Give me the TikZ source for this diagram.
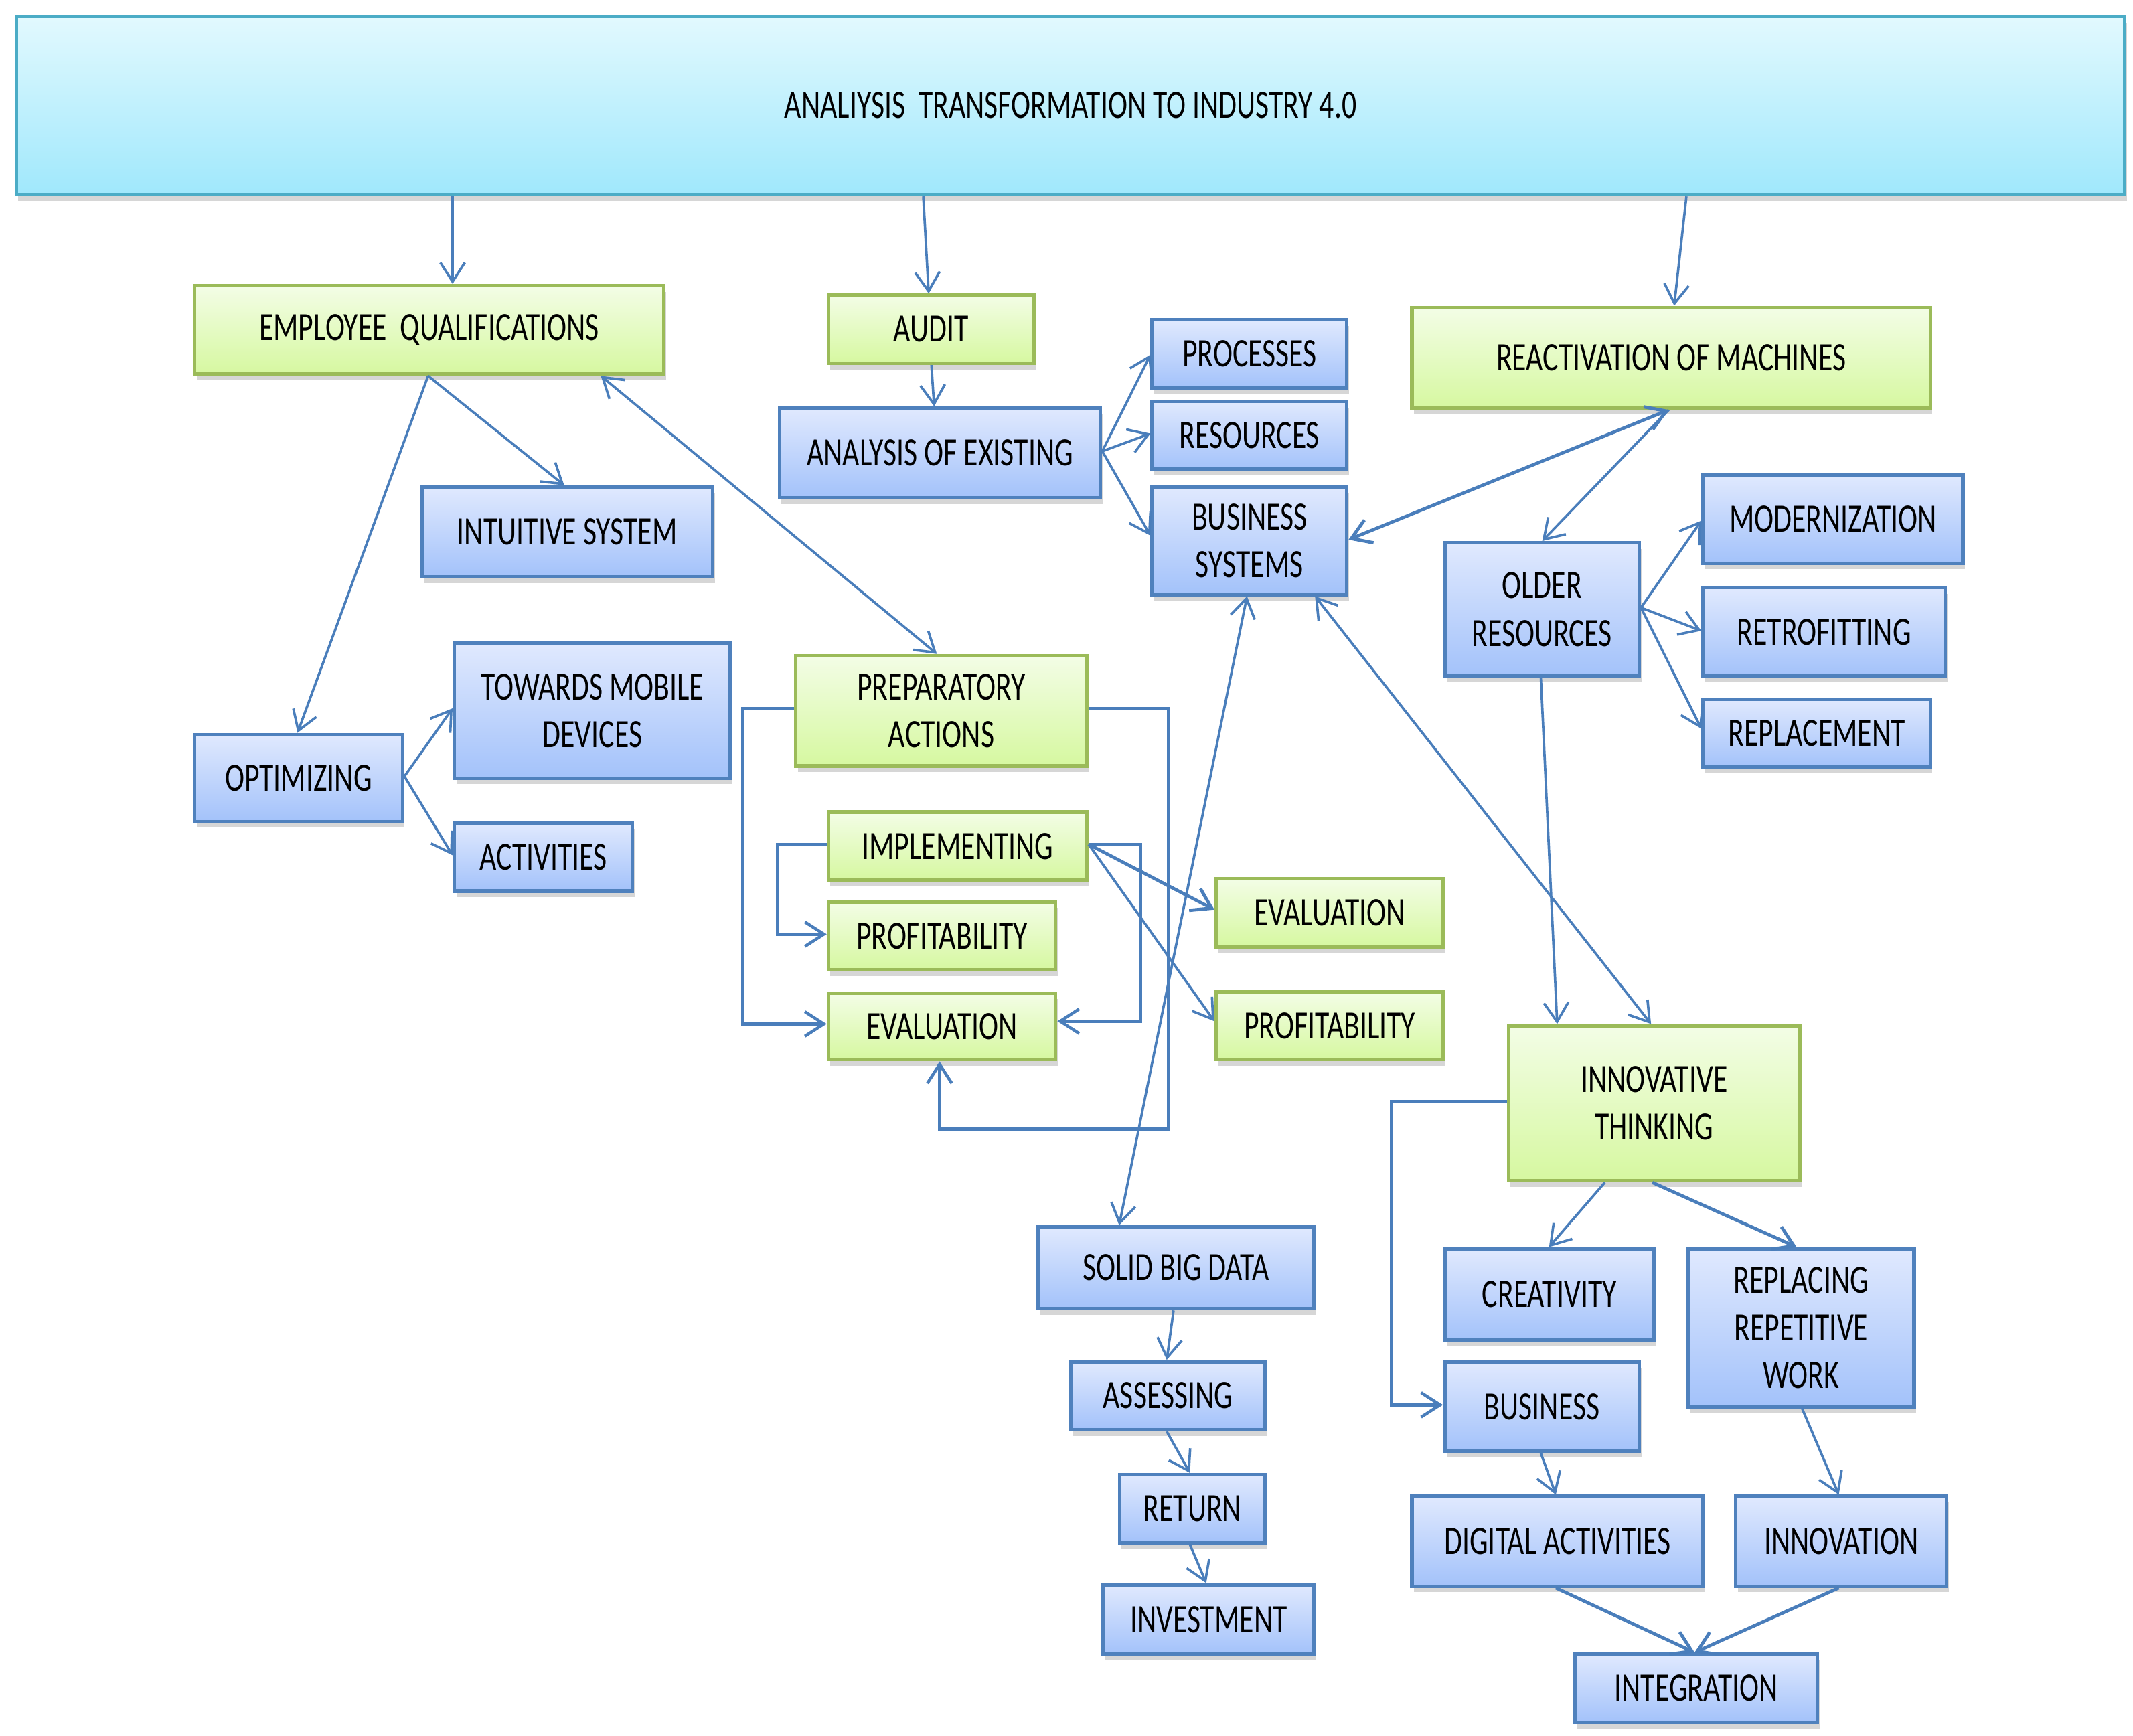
\documentclass[tikz,border=0pt]{standalone}
\usepackage{fontspec}
\usetikzlibrary{arrows.meta,shadows,calc}
\newfontfamily\cf[FakeStretch=0.73]{Carlito}
\definecolor{ttop}{HTML}{E2F9FE}
\definecolor{tbot}{HTML}{A0E8FC}
\definecolor{tborder}{HTML}{4BACC6}
\definecolor{gtop}{HTML}{F3FDE6}
\definecolor{gbot}{HTML}{D6F8A0}
\definecolor{gborder}{HTML}{9BBB59}
\definecolor{btop}{HTML}{E0E9FE}
\definecolor{bbot}{HTML}{A3C2FA}
\definecolor{bborder}{HTML}{4F81BD}
\definecolor{lc}{HTML}{4A7EBB}
\tikzset{
  vtip/.tip={Straight Barb[length=14pt,width=18pt]},
  basebox/.style={rectangle, line width=2.6pt, inner sep=0pt, align=center,
    font={\cf\fontsize{29.5}{35}\selectfont}, text=black,
    drop shadow={shadow xshift=1.5pt,shadow yshift=-4.5pt,opacity=0.32}},
  tbox/.style={basebox, draw=tborder, top color=ttop, bottom color=tbot},
  gbox/.style={basebox, draw=gborder, top color=gtop, bottom color=gbot},
  bbox/.style={basebox, draw=bborder, top color=btop, bottom color=bbot},
  conn/.style={draw=lc, line width=1.8pt},
  arr/.style={conn, -vtip},
  darr/.style={conn, vtip-vtip},
}
\newcommand\mkbox[7]{%
  \pgfmathsetmacro\mkw{#5-#3}%
  \pgfmathsetmacro\mkh{#6-#4}%
  \node[#2, minimum width=\mkw pt, minimum height=\mkh pt] (#1) at ({(#3+#5)/2},{(#4+#6)/2}) {#7};%
}
\begin{document}
\begin{tikzpicture}[x=1pt,y=-1pt]
\useasboundingbox (0,0) rectangle (1568,1276);
% boxes
\mkbox{top}{tbox}{12}{12}{1562}{143}{ANALIYSIS\ \ TRANSFORMATION TO INDUSTRY 4.0}
\mkbox{eq}{gbox}{143}{210}{488}{275}{EMPLOYEE\ \ QUALIFICATIONS}
\mkbox{audit}{gbox}{609}{217}{760}{267}{AUDIT}
\mkbox{react}{gbox}{1038}{226}{1419}{300}{REACTIVATION OF MACHINES}
\mkbox{anex}{bbox}{573}{300}{809}{366}{ANALYSIS OF EXISTING}
\mkbox{proc}{bbox}{847}{235}{990}{285}{PROCESSES}
\mkbox{res}{bbox}{847}{295}{990}{345}{RESOURCES}
\mkbox{bs}{bbox}{847}{358}{990}{437}{BUSINESS\\SYSTEMS}
\mkbox{intu}{bbox}{310}{358}{524}{424}{INTUITIVE SYSTEM}
\mkbox{tmd}{bbox}{334}{473}{537}{572}{TOWARDS MOBILE\\DEVICES}
\mkbox{opt}{bbox}{143}{540}{296}{604}{OPTIMIZING}
\mkbox{act}{bbox}{334}{605}{465}{655}{ACTIVITIES}
\mkbox{prep}{gbox}{585}{482}{799}{563}{PREPARATORY\\ACTIONS}
\mkbox{impl}{gbox}{609}{597}{799}{647}{IMPLEMENTING}
\mkbox{profa}{gbox}{609}{663}{776}{713}{PROFITABILITY}
\mkbox{evala}{gbox}{609}{730}{776}{779}{EVALUATION}
\mkbox{evalb}{gbox}{894}{646}{1061}{696}{EVALUATION}
\mkbox{profb}{gbox}{894}{729}{1061}{779}{PROFITABILITY}
\mkbox{older}{bbox}{1062}{399}{1205}{497}{OLDER\\RESOURCES}
\mkbox{mod}{bbox}{1252}{349}{1443}{414}{MODERNIZATION}
\mkbox{retro}{bbox}{1252}{432}{1430}{497}{RETROFITTING}
\mkbox{repl}{bbox}{1252}{514}{1419}{564}{REPLACEMENT}
\mkbox{innov}{gbox}{1109}{754}{1323}{868}{INNOVATIVE\\THINKING}
\mkbox{sbd}{bbox}{763}{902}{966}{962}{SOLID BIG DATA}
\mkbox{ass}{bbox}{787}{1001}{930}{1051}{ASSESSING}
\mkbox{ret}{bbox}{823}{1084}{930}{1134}{RETURN}
\mkbox{inv}{bbox}{811}{1165}{966}{1216}{INVESTMENT}
\mkbox{crea}{bbox}{1062}{918}{1216}{985}{CREATIVITY}
\mkbox{rrw}{bbox}{1241}{918}{1407}{1034}{REPLACING\\REPETITIVE\\WORK}
\mkbox{bus}{bbox}{1062}{1001}{1205}{1067}{BUSINESS}
\mkbox{dig}{bbox}{1038}{1100}{1252}{1166}{DIGITAL ACTIVITIES}
\mkbox{innovation}{bbox}{1276}{1100}{1431}{1166}{INNOVATION}
\mkbox{integ}{bbox}{1158}{1216}{1336}{1266}{INTEGRATION}
\coordinate (prc) at (859,830);
% connectors
\draw[arr] ([xshift=322pt]top.south west) -- ([xshift=191pt]eq.north west);
\draw[arr] ([xshift=668pt]top.south west) -- ([xshift=75pt]audit.north west);
\draw[arr] ([xshift=1229pt]top.south west) -- ([xshift=194pt]react.north west);
\draw[arr] ([xshift=173pt]eq.south west) -- ([xshift=106pt]intu.north west);
\draw[arr] ([xshift=173pt]eq.south west) -- ([xshift=77pt]opt.north west);
\draw[darr] ([xshift=300pt]eq.south west) -- ([xshift=105pt]prep.north west);
\draw[arr] ([xshift=77pt]audit.south west) -- ([xshift=115pt]anex.north west);
\draw[arr] ([yshift=-33pt]anex.north east) -- ([yshift=-27pt]proc.north west);
\draw[arr] ([yshift=-33pt]anex.north east) -- ([yshift=-25pt]res.north west);
\draw[arr] ([yshift=-33pt]anex.north east) -- ([yshift=-37pt]bs.north west);
\draw[darr, line width=2.4pt] ([xshift=190pt]react.south west) -- ([yshift=-40pt]bs.north east);
\draw[arr] ([xshift=190pt]react.south west) -- ([xshift=73pt]older.north west);
\draw[arr] ([yshift=-49pt]older.north east) -- ([yshift=-35pt]mod.north west);
\draw[arr] ([yshift=-49pt]older.north east) -- ([yshift=-33pt]retro.north west);
\draw[arr] ([yshift=-49pt]older.north east) -- ([yshift=-23pt]repl.north west);
\draw[arr] ([xshift=72pt]older.south west) -- ([xshift=37pt]innov.north west);
\draw[darr] ([xshift=121pt]bs.south west) -- ([xshift=106pt]innov.north west);
\draw[darr] ([xshift=71pt]bs.south west) -- ([xshift=61pt]sbd.north west);
\draw[arr] ([yshift=-32pt]opt.north east) -- ([yshift=-49pt]tmd.north west);
\draw[arr] ([yshift=-32pt]opt.north east) -- ([yshift=-25pt]act.north west);
\draw[arr, line width=2.2pt] ([yshift=-40pt]prep.north west) -- ++(-38,0) |- ([yshift=-24pt]evala.north west);
\draw[arr, line width=2.2pt] ([yshift=-40pt]prep.north east) -| (prc) -| ([xshift=83pt]evala.south west);
\draw[arr, line width=2.2pt] ([yshift=-25pt]impl.north west) -- ++(-36,0) |- ([yshift=-25pt]profa.north west);
\draw[arr, line width=2.2pt] ([yshift=-25pt]impl.north east) -- ++(38,0) |- ([yshift=-22pt]evala.north east);
\draw[arr, line width=2.4pt] ([yshift=-25pt]impl.north east) -- ([yshift=-24pt]evalb.north west);
\draw[arr] ([yshift=-25pt]impl.north east) -- ([yshift=-23pt]profb.north west);
\draw[arr, line width=2.2pt] ([yshift=-57pt]innov.north west) -- ++(-85,0) |- ([yshift=-33pt]bus.north west);
\draw[arr] ([xshift=72pt]innov.south west) -- ([xshift=78pt]crea.north west);
\draw[arr, line width=2.4pt] ([xshift=107pt]innov.south west) -- ([xshift=81pt]rrw.north west);
\draw[arr] ([xshift=85pt]rrw.south west) -- ([xshift=77pt]innovation.north west);
\draw[arr] ([xshift=72pt]bus.south west) -- ([xshift=107pt]dig.north west);
\draw[arr, line width=2.4pt] ([xshift=107pt]dig.south west) -- ([xshift=89pt]integ.north west);
\draw[arr, line width=2.4pt] ([xshift=77pt]innovation.south west) -- ([xshift=89pt]integ.north west);
\draw[arr] ([xshift=101pt]sbd.south west) -- ([xshift=72pt]ass.north west);
\draw[arr] ([xshift=72pt]ass.south west) -- ([xshift=53pt]ret.north west);
\draw[arr] ([xshift=53pt]ret.south west) -- ([xshift=77pt]inv.north west);
\end{tikzpicture}
\end{document}
